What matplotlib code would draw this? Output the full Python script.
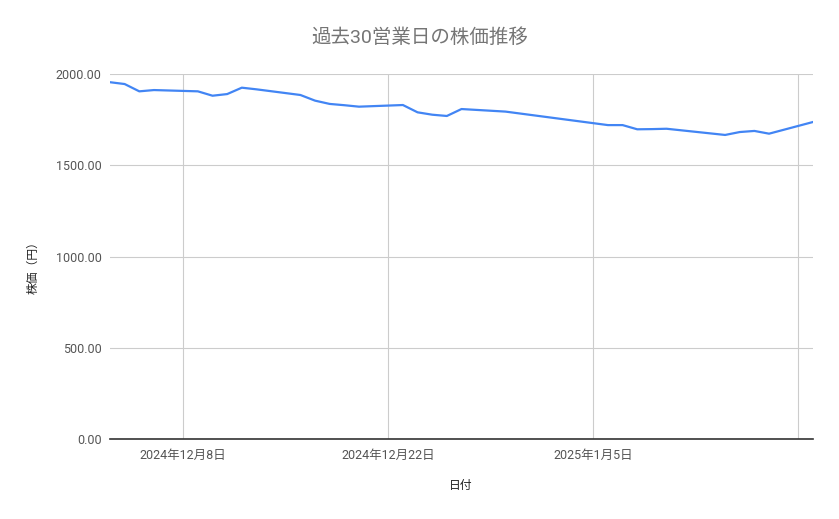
import matplotlib
matplotlib.use("Agg")
import matplotlib.pyplot as plt
import matplotlib.dates as mdates
import matplotlib.ticker as mticker
import pandas as pd

dates = ["2024-12-03", "2024-12-04", "2024-12-05", "2024-12-06",
         "2024-12-09", "2024-12-10", "2024-12-11", "2024-12-12", "2024-12-13",
         "2024-12-16", "2024-12-17", "2024-12-18", "2024-12-19", "2024-12-20",
         "2024-12-23", "2024-12-24", "2024-12-25", "2024-12-26", "2024-12-27",
         "2024-12-30",
         "2025-01-06", "2025-01-07", "2025-01-08", "2025-01-09", "2025-01-10",
         "2025-01-14", "2025-01-15", "2025-01-16", "2025-01-17",
         "2025-01-20"]
prices = [1955, 1945, 1905, 1912,
          1905, 1881, 1890, 1925, 1916,
          1885, 1854, 1836, 1829, 1821,
          1830, 1790, 1777, 1770, 1808,
          1794,
          1720, 1720, 1697, 1698, 1700,
          1666, 1682, 1688, 1673,
          1737]
x_ticks = ["2024-12-08", "2024-12-22", "2025-01-05", "2025-01-19"]
x_tick_labels = ["2024年12月8日", "2024年12月22日", "2025年1月5日", ""]
y_ticks = [0, 500, 1000, 1500, 2000]

title = "過去30営業日の株価推移"
x_label = "日付"
y_label = "株価（円）"

FAM = ["Roboto", "Noto Sans CJK JP", "DejaVu Sans"]
plt.rcParams["font.family"] = FAM

W, H = 839, 519
fig = plt.figure(figsize=(W / 100, H / 100), dpi=100)
ax = fig.add_axes([110 / W, 1 - 439 / H, (813 - 110) / W, (439 - 74) / H])

x = pd.to_datetime(dates)
ax.plot(x, prices, color="#4285F4", linewidth=1.6, zorder=3)

ax.set_xlim(x[0], x[-1])
ax.set_ylim(0, 2000)
ax.set_yticks(y_ticks)
ax.yaxis.set_major_formatter(mticker.FuncFormatter(lambda v, p: f"{v:.2f}"))
ax.set_xticks(pd.to_datetime(x_ticks))
ax.set_xticklabels(x_tick_labels)

ax.grid(True, color="#cccccc", linewidth=0.8, zorder=0)
for s in ["top", "right", "left"]:
    ax.spines[s].set_visible(False)
ax.spines["bottom"].set_color("#333333")
ax.spines["bottom"].set_linewidth(1.2)
ax.spines["bottom"].set_zorder(4)
ax.tick_params(axis="both", length=0, labelsize=9, labelcolor="#555555")
ax.tick_params(axis="y", pad=6)
ax.tick_params(axis="x", pad=7)

fig.text(420 / W, 1 - 38 / H, title, ha="center", va="center",
         fontsize=14, color="#757575")
fig.text(461 / W, 1 - 486 / H, x_label, ha="center", va="center",
         fontsize=8.5, color="#222222")
fig.text(33 / W, 1 - 265 / H, y_label, ha="center", va="center",
         fontsize=8.5, color="#222222", rotation=90)

fig.savefig("out.png", dpi=100)
